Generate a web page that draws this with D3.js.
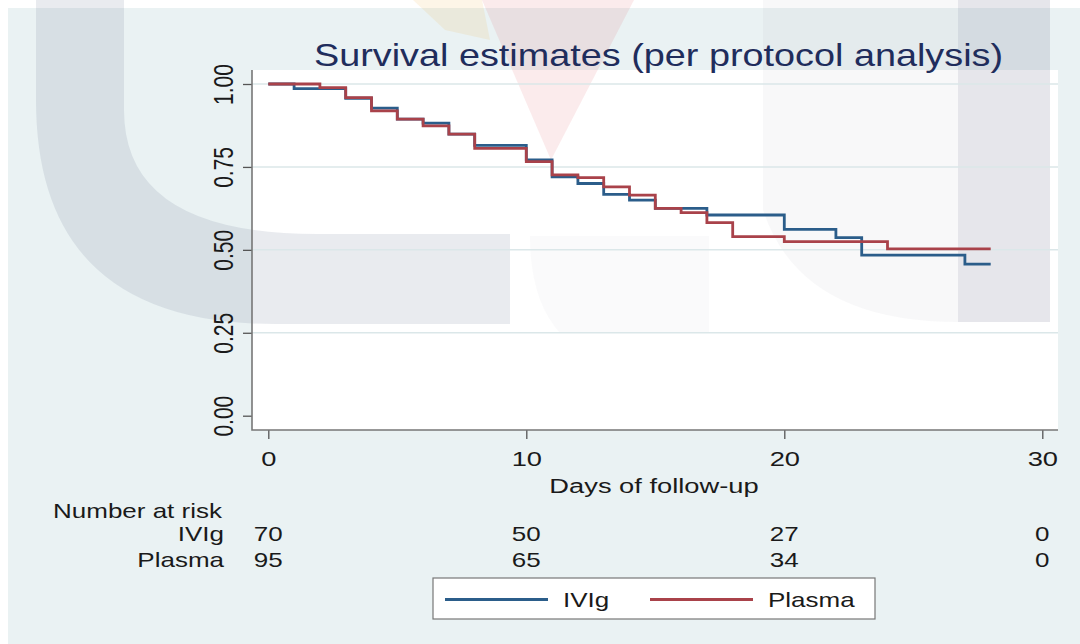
<!DOCTYPE html>
<html>
<head>
<meta charset="utf-8">
<script src="https://cdn.jsdelivr.net/npm/d3@7"></script>
<style>
  body { margin: 0; background: #ffffff; }
  svg text { font-family: "Liberation Sans", Arial, sans-serif; fill: #1a1a1a; }
</style>
</head>
<body>
<div id="km"></div>
<script>
// Kaplan-Meier estimates (step after each time)
var ivigTimes   = [0, 1, 3, 4, 5, 6, 7, 8, 10, 11, 12, 13, 14, 15, 17, 20, 22, 23, 27, 28]
var ivigSurv    = [1, 0.986, 0.957, 0.927, 0.894, 0.882, 0.849, 0.815, 0.771, 0.720, 0.700, 0.667, 0.650, 0.625, 0.605, 0.562, 0.537, 0.484, 0.457, 0.457]
var plasmaTimes = [0, 2, 3, 4, 5, 6, 7, 8, 10, 11, 12, 13, 14, 15, 16, 17, 18, 20, 24, 28]
var plasmaSurv  = [1, 0.989, 0.959, 0.919, 0.894, 0.874, 0.849, 0.806, 0.766, 0.726, 0.718, 0.690, 0.665, 0.625, 0.612, 0.582, 0.540, 0.525, 0.503, 0.503]

// number at risk table
var riskTimes  = [0, 10, 20, 30]
var ivigRisk   = [70, 50, 27, 0]
var plasmaRisk = [95, 65, 34, 0]

var groups = ["IVIg", "Plasma"]
var xTicks = [0, 10, 20, 30]
var yTicks = [0, 0.25, 0.5, 0.75, 1]

var width = 1080
    height = 644
    stretch = 1.3   // the original picture is widened, so text is too

var colors = {"IVIg": "#2b5d8a", "Plasma": "#a9424a"}

var svg = d3.select("#km")
    .append("svg")
    .attr("width", width)
    .attr("height", height)

// backgrounds
svg.append("rect").attr("width", width).attr("height", height).attr("fill", "#ffffff")
svg.append("rect").attr("x", 8).attr("y", 8).attr("width", width - 8).attr("height", height - 8).attr("fill", "#eaf2f3")

var plot = {left: 252, right: 1058, top: 70, bottom: 430}
svg.append("rect")
    .attr("x", plot.left).attr("y", plot.top)
    .attr("width", plot.right - plot.left).attr("height", plot.bottom - plot.top)
    .attr("fill", "#ffffff")

// faint watermark behind the chart
var wm = svg.append("g")
wm.append("path")
    .attr("d", "M36,0 L124,0 L124,110 Q124,234 317,234 L510,234 L510,324 L275,324 Q36,324 36,100 Z")
    .attr("fill", "rgb(100,110,140)").attr("opacity", 0.14)
wm.append("path")
    .attr("d", "M763,0 L958,0 L958,322 Q800,322 763,210 Z")
    .attr("fill", "rgb(110,110,140)").attr("opacity", 0.05)
wm.append("rect")
    .attr("x", 958).attr("y", 0).attr("width", 92).attr("height", 322)
    .attr("fill", "rgb(100,100,130)").attr("opacity", 0.16)
wm.append("path")
    .attr("d", "M530,236 L709,236 L709,333 L560,333 Q530,300 530,236 Z")
    .attr("fill", "rgb(110,110,140)").attr("opacity", 0.035)
wm.append("path")
    .attr("d", "M482,0 L634,0 L551,160 Z")
    .attr("fill", "rgb(220,60,70)").attr("opacity", 0.1)
wm.append("path")
    .attr("d", "M413,0 L482,0 L490,40 L445,30 Z")
    .attr("fill", "rgb(240,170,60)").attr("opacity", 0.12)

// scales
var x = d3.scaleLinear().domain([0, 30]).range([268.3, 1042.3])
var y = d3.scaleLinear().domain([0, 1]).range([415.7, 84])

// grid lines
svg.append("g")
    .selectAll("line")
    .data(yTicks.filter(function(d) { return d > 0 }))
    .enter()
    .append("line")
    .attr("x1", plot.left).attr("x2", plot.right)
    .attr("y1", function(d) { return y(d) }).attr("y2", function(d) { return y(d) })
    .attr("stroke", "#dbe7e9")
    .attr("stroke-width", 1.5)

// axes
var xAxis = svg.append("g")
    .attr("transform", "translate(0," + plot.bottom + ")")
    .call(d3.axisBottom(x).tickValues(xTicks).tickSize(9).tickSizeOuter(0))
xAxis.select(".domain").remove()
xAxis.selectAll(".tick line").attr("stroke", "#555").attr("stroke-width", 1.3)
xAxis.selectAll(".tick text")
    .attr("y", 0).attr("dy", 0)
    .attr("transform", "translate(0,36) scale(" + stretch + ",1)")
    .style("font-size", "21px")
    .style("font-family", null)

var yAxis = svg.append("g")
    .attr("transform", "translate(" + plot.left + ",0)")
    .call(d3.axisLeft(y).tickValues(yTicks).tickSize(9).tickSizeOuter(0).tickFormat(d3.format(".2f")))
yAxis.select(".domain").remove()
yAxis.selectAll(".tick line").attr("stroke", "#555").attr("stroke-width", 1.3)
yAxis.selectAll(".tick text")
    .attr("x", 0).attr("dy", 0)
    .attr("text-anchor", "middle")
    .attr("transform", "translate(-19,0) scale(" + stretch + ",1) rotate(-90)")
    .style("font-size", "21px")
    .style("font-family", null)
svg.selectAll(".tick text").attr("fill", "#1a1a1a")

// plot frame (left and bottom only)
svg.append("path")
    .attr("d", "M" + plot.left + "," + plot.top + "V" + plot.bottom + "H" + plot.right)
    .attr("fill", "none")
    .attr("stroke", "#777")
    .attr("stroke-width", 1.6)

// survival curves
var series = [
  {key: "IVIg", times: ivigTimes, surv: ivigSurv},
  {key: "Plasma", times: plasmaTimes, surv: plasmaSurv}
]
var line = d3.line()
    .x(function(d) { return x(d[0]) })
    .y(function(d) { return y(d[1]) })
    .curve(d3.curveStepAfter)

svg.append("g")
    .selectAll("path")
    .data(series)
    .enter()
    .append("path")
    .attr("d", function(s) { return line(d3.zip(s.times, s.surv)) })
    .attr("fill", "none")
    .attr("stroke", function(s) { return colors[s.key] })
    .attr("stroke-width", 2.8)

// helper for widened text
function label(tx, ty, str, size, anchor, sx, color) {
  return svg.append("text")
    .attr("transform", "translate(" + tx + "," + ty + ") scale(" + sx + ",1)")
    .attr("text-anchor", anchor)
    .style("font-size", size + "px")
    .style("fill", color || "#1a1a1a")
    .text(str)
}

// title and axis title
label(658.5, 66, "Survival estimates (per protocol analysis)", 31, "middle", 1.22, "#1f2d5c")
label(654, 493, "Days of follow-up", 21, "middle", stretch)

// number at risk
label(53, 518, "Number at risk", 20, "start", stretch)
var riskRows = [
  {key: "IVIg", values: ivigRisk, base: 541},
  {key: "Plasma", values: plasmaRisk, base: 567}
]
riskRows.forEach(function(row) {
  label(224, row.base, row.key, 20, "end", stretch)
  row.values.forEach(function(v, i) {
    label(x(riskTimes[i]), row.base, v, 20, "middle", stretch)
  })
})

// legend
var legend = svg.append("g")
legend.append("rect")
    .attr("x", 433).attr("y", 578).attr("width", 442).attr("height", 41)
    .attr("fill", "#ffffff").attr("stroke", "#777").attr("stroke-width", 1.2)
var legendX = d3.scalePoint().domain(groups).range([445, 650])
groups.forEach(function(g) {
  var lx = legendX(g)
  legend.append("line")
      .attr("x1", lx).attr("x2", lx + 103)
      .attr("y1", 599.5).attr("y2", 599.5)
      .attr("stroke", colors[g]).attr("stroke-width", 2.8)
  label(lx + 118, 607, g, 20, "start", stretch)
})
</script>
</body>
</html>
